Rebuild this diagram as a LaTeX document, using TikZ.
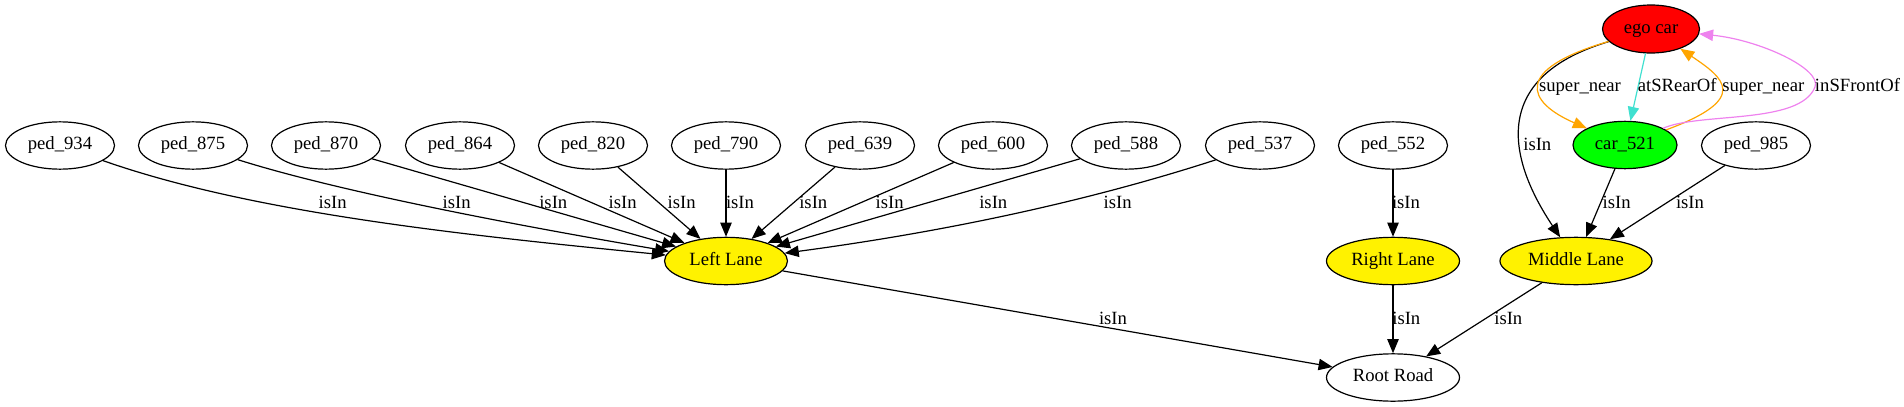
\documentclass[tikz,border=0pt]{standalone}
\usepackage{fontspec}
\setmainfont{Liberation Serif}
\usetikzlibrary{shapes.geometric,arrows.meta}
\definecolor{gvorange}{HTML}{FFA500}
\definecolor{gvturq}{HTML}{40E0D0}
\definecolor{gvviolet}{HTML}{EE82EE}
\begin{document}
\begin{tikzpicture}[x=0.75pt,y=-0.75pt,
  every node/.style={font=\fontsize{14pt}{16pt}\selectfont},
  gvnode/.style={ellipse, draw, line width=0.9pt, inner sep=0pt, minimum height=35.5pt, text height=9.6pt, text depth=3pt},
  pednode/.style={gvnode, minimum width=81.75pt},
  lane/.style={gvnode, fill=yellow},
  edgelbl/.style={anchor=base, inner sep=0pt},
  gvedge/.style={line width=0.9pt, -{Triangle[length=10.5pt,width=8.5pt]}}
]
\useasboundingbox (0,0) rectangle (1904,407);
% top row
\node[pednode] (p934) at (60,145.5) {ped\_934};
\node[pednode] (p875) at (193,145.5) {ped\_875};
\node[pednode] (p870) at (326,145.5) {ped\_870};
\node[pednode] (p864) at (460,145.5) {ped\_864};
\node[pednode] (p820) at (593,145.5) {ped\_820};
\node[pednode] (p790) at (726,145.5) {ped\_790};
\node[pednode] (p639) at (860,145.5) {ped\_639};
\node[pednode] (p600) at (993,145.5) {ped\_600};
\node[pednode] (p588) at (1126,145.5) {ped\_588};
\node[pednode] (p537) at (1260,145.5) {ped\_537};
\node[pednode] (p552) at (1393,145.5) {ped\_552};
\node[gvnode, fill=green, minimum width=78pt] (c521) at (1625,145) {car\_521};
\node[pednode] (p985) at (1756,145.5) {ped\_985};
\node[gvnode, fill=red, minimum width=72.75pt, minimum height=36pt] (ego) at (1651,29) {ego car};
% lanes
\node[lane, minimum width=92.25pt] (LL) at (726,261) {Left Lane};
\node[lane, minimum width=99.75pt] (RL) at (1393,261) {Right Lane};
\node[lane, minimum width=114pt] (ML) at (1576,261) {Middle Lane};
\node[gvnode, minimum width=99.75pt] (RR) at (1393,377.5) {Root Road};
% edges to Left Lane
\draw[gvedge] (p934) .. controls (252,213) and (463,235) .. (LL);
\draw[gvedge] (p875) .. controls (340,192) and (520,226) .. (LL);
\draw[gvedge] (p870) -- (LL);
\draw[gvedge] (p864) -- (LL);
\draw[gvedge] (p820) -- (LL);
\draw[gvedge] (p790) -- (LL);
\draw[gvedge] (p639) -- (LL);
\draw[gvedge] (p600) -- (LL);
\draw[gvedge] (p588) -- (LL);
\draw[gvedge] (p537) .. controls (1098,198) and (958,230) .. (LL);
\node[edgelbl] (l934) at (332.7,208.5) {isIn};
\node[edgelbl] (l875) at (456.7,208.5) {isIn};
\node[edgelbl] (l870) at (553.3,208.5) {isIn};
\node[edgelbl] (l864) at (622.7,208.5) {isIn};
\node[edgelbl] (l820) at (681.7,208.5) {isIn};
\node[edgelbl] (l790) at (740,208.5) {isIn};
\node[edgelbl] (l639) at (813.3,208.5) {isIn};
\node[edgelbl] (l600) at (889.7,208.5) {isIn};
\node[edgelbl] (l588) at (993.3,208.5) {isIn};
\node[edgelbl] (l537) at (1117.7,208.5) {isIn};
% right lane
\draw[gvedge] (p552) -- (RL);
\node[edgelbl] (l552) at (1406,208.5) {isIn};
% middle lane
\draw[gvedge] (c521) -- (ML);
\draw[gvedge] (p985) -- (ML);
\draw[gvedge] (ego) .. controls (1480,80) and (1515.5,170.3) .. (ML);
\node[edgelbl] (l521) at (1616.7,208) {isIn};
\node[edgelbl] (l985) at (1690,208) {isIn};
\node[edgelbl] (legoi) at (1537.3,150) {isIn};
% ego car relations
\draw[gvedge, gvorange] (ego) .. controls (1513,69.5) and (1526,101.7) .. (c521);
\draw[gvedge, gvturq] (ego) -- (c521);
\draw[gvedge, gvorange] (c521) .. controls (1751.4,98.5) and (1723.5,77.8) .. (ego);
\draw[gvedge, gvviolet] (c521) .. controls (1700,112) and (1800,125) .. (1815,87)
   .. controls (1822,69) and (1760,40) .. (ego);
\node[edgelbl] (lsn1) at (1580,91.7) {super\_near};
\node[edgelbl] (lrear) at (1677.2,91.7) {atSRearOf};
\node[edgelbl] (lsn2) at (1763.3,91.7) {super\_near};
\node[edgelbl] (lfront) at (1857.5,91.7) {inSFrontOf};
% to root road
\draw[gvedge] (LL) -- (RR);
\draw[gvedge] (RL) -- (RR);
\draw[gvedge] (ML) -- (RR);
\node[edgelbl] (lLL) at (1113,324) {isIn};
\node[edgelbl] (lRL) at (1406.3,324) {isIn};
\node[edgelbl] (lML) at (1508.3,324) {isIn};
\end{tikzpicture}
\end{document}
